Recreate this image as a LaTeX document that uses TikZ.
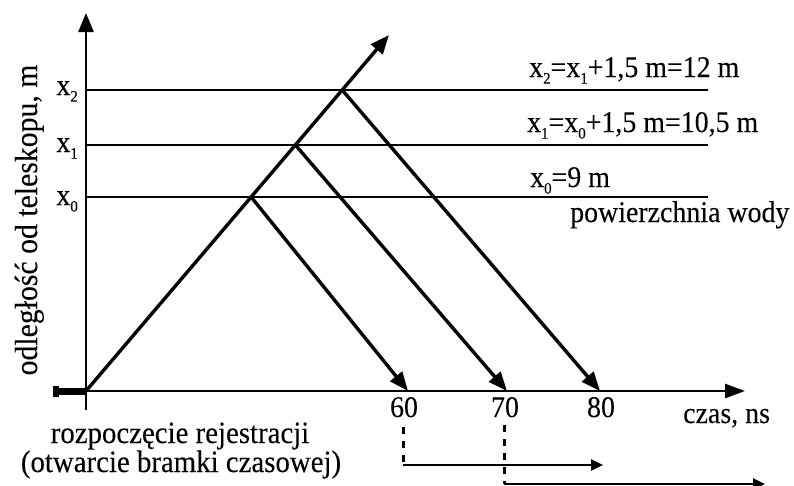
\documentclass[tikz,border=0pt]{standalone}
\usepackage{fontspec}
\setmainfont{Liberation Serif}[FakeStretch=0.93,FakeBold=0.12]
\usetikzlibrary{arrows.meta}
\newcommand\lowsub[1]{\raisebox{-0.22em}{\fontsize{16}{16}\selectfont #1}}
\begin{document}
\begin{tikzpicture}[x=1pt,y=-1pt,
  lbl/.style={inner sep=0pt, font=\fontsize{30}{34}\selectfont},
  blbl/.style={inner sep=0pt, font=\fontsize{31}{35}\selectfont},
  ylbl/.style={inner sep=0pt, font=\fontsize{32}{36}\selectfont},
  axis/.style={line width=2.8pt},
  water/.style={line width=2pt},
  ray/.style={line width=3.4pt, -{Triangle[length=19pt,width=15pt]}},
  gate/.style={line width=2.4pt, -{Triangle[length=12pt,width=11pt]}},
  gatedash/.style={line width=3pt, dash pattern=on 7pt off 7pt}]
\useasboundingbox (0,0) rectangle (794,485);
% key points
\coordinate (O) at (86,391);
\coordinate (T) at (389,35);
\coordinate (Ytop) at (86,13);
\coordinate (Ybot) at (86,410);
\coordinate (Xl) at (55,391);
\coordinate (Xr) at (745,391);
\coordinate (L2a) at (86,90);  \coordinate (L2b) at (708,90);
\coordinate (L1a) at (86,145); \coordinate (L1b) at (708,145);
\coordinate (L0a) at (86,197); \coordinate (L0b) at (708,197);
\coordinate (P0) at (intersection of O--T and L0a--L0b);
\coordinate (P1) at (intersection of O--T and L1a--L1b);
\coordinate (P2) at (intersection of O--T and L2a--L2b);
\coordinate (E0) at (408,391);
\coordinate (E1) at (507,391);
\coordinate (E2) at (600,391);
\coordinate (D0a) at (403,427); \coordinate (D0b) at (403,465);
\coordinate (D1a) at (504,425); \coordinate (D1b) at (504,484);
\coordinate (G0) at (603,465);
\coordinate (G1) at (765,484);
% water levels
\draw[water] (L2a) -- (L2b);
\draw[water] (L1a) -- (L1b);
\draw[water] (L0a) -- (L0b);
% axes
\draw[axis, -{Triangle[length=19pt,width=15pt]}] (Ybot) -- (Ytop);
\draw[axis, -{Triangle[length=20pt,width=14pt]}] (Xl) -- (Xr);
\draw[line width=7pt] (Xl) -- (O);
\fill (53,386) rectangle (59,397);
% rays
\draw[ray] (O) -- (T);
\draw[ray] (P0) -- (E0);
\draw[ray] (P1) -- (E1);
\draw[ray] (P2) -- (E2);
% gates
\draw[gatedash] (D0a) -- (D0b);
\draw[gatedash] (D1a) -- (D1b);
\draw[gate] (D0b) -- (G0);
\draw[gate] (D1b) -- (G1);
% labels
\node[lbl, anchor=base east] (lx2) at (78,95) {x\lowsub{2}};
\node[lbl, anchor=base east] (lx1) at (78,152) {x\lowsub{1}};
\node[lbl, anchor=base east] (lx0) at (78,205) {x\lowsub{0}};
\node[lbl, anchor=base west] (r2) at (529,77) {x\lowsub{2}=x\lowsub{1}+1,5 m=12 m};
\node[lbl, anchor=base west] (r1) at (527,132) {x\lowsub{1}=x\lowsub{0}+1,5 m=10,5 m};
\node[lbl, anchor=base west] (r0) at (530,187) {x\lowsub{0}=9 m};
\node[lbl, anchor=base west] (pw) at (570,222) {powierzchnia wody};
\node[lbl, anchor=base] (t60) at (404,417) {60};
\node[lbl, anchor=base] (t70) at (505,417) {70};
\node[lbl, anchor=base] (t80) at (601,417) {80};
\node[lbl, anchor=base west] (cz) at (683,423) {czas, ns};
\node[blbl, anchor=base] (rz1) at (180,443) {rozpoczęcie rejestracji};
\node[blbl, anchor=base] (rz2) at (181,472) {(otwarcie bramki czasowej)};
\node[ylbl, anchor=base, rotate=90] (yl) at (37,220) {odległość od teleskopu, m};
\end{tikzpicture}
\end{document}
